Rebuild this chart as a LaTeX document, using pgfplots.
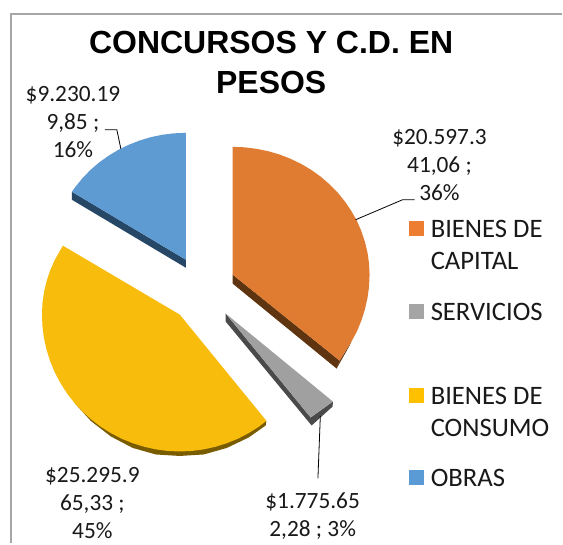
\documentclass[border=0pt]{standalone}
\usepackage{pgfplots}
\pgfplotsset{compat=1.18}
\usepackage{fontspec}
\setmainfont{Carlito}
\newfontfamily\arialb{Liberation Sans}
\definecolor{cor}{HTML}{E07B32}\definecolor{cordk}{HTML}{5F3410}
\definecolor{cgr}{HTML}{A0A0A0}\definecolor{cgrdk}{HTML}{4A4A4A}
\definecolor{cye}{HTML}{F7BC0C}\definecolor{cyedk}{HTML}{7A5C00}
\definecolor{cbl}{HTML}{5F9BD3}\definecolor{cbldk}{HTML}{264766}
\definecolor{lor}{HTML}{ED7D31}\definecolor{lgr}{HTML}{A5A5A5}
\definecolor{lye}{HTML}{FFC000}\definecolor{lbl}{HTML}{5B9BD5}
\tikzset{lab/.style={font=\fontsize{17.5pt}{21pt}\selectfont,text=black!90,inner sep=0pt},
 leg/.style={font=\fontsize{20pt}{24pt}\selectfont,text=black!90,inner sep=0pt}}
\begin{document}
\begin{tikzpicture}
\begin{axis}[scale only axis,width=422.25pt,height=408pt,xmin=0,xmax=563,ymin=0,ymax=544,y dir=reverse,
  hide axis,clip=false]
\addplot[fill=white,draw=none] coordinates {(0,0)(563,0)(563,544)(0,544)} -- cycle;
% frame
\addplot[draw=gray!70,line width=1pt] coordinates {(11,544)(11,14)(563,14)};
% blue
\addplot[fill=cbldk,draw=none] coordinates {(186,260)(72,192)(72,200)(186,268)} -- cycle;
\addplot[fill=cbl,draw=none] coordinates {(186,260)(186,133)(174.2,133.5)(162.6,134.9)(151.1,137.3)(139.8,140.7)(129,144.9)(118.5,150)(108.6,156)(99.2,162.7)(90.5,170.2)(82.6,178.4)(75.4,187.2)(72,192)} -- cycle;
% orange
\addplot[fill=cordk,draw=none] coordinates {(233,275)(340,361)(337,369)(233,284)} -- cycle;
\addplot[fill=cordk,draw=none] coordinates {(351.6,342.5)(350,346)(337,369)(340,361)} -- cycle;
\addplot[fill=cor,draw=none] coordinates {(233,275)(233,147)(244.9,147.5)(256.8,149)(268.5,151.4)(279.9,154.7)(290.9,159)(301.5,164.1)(311.6,170.1)(321.1,176.9)(329.9,184.5)(338,192.7)(345.2,201.6)(351.6,211)(357.2,220.9)(361.7,231.2)(365.3,241.9)(367.9,252.8)(369.5,263.8)(370,275)(369.5,286.8)(367.9,298.4)(365.3,309.9)(361.7,321.2)(357.2,332.1)(351.6,342.5)(345.2,352.4)(340,361)} -- cycle;
% grey
\addplot[fill=cgrdk,draw=none] coordinates {(226,314)(226,322)(312,426)(333,407)(333.3,402)(311,418)} -- cycle;
\addplot[fill=cgr,draw=none] coordinates {(226,314)(333.3,402)(311,418)} -- cycle;
% yellow
\addplot[fill=cyedk,draw=none] coordinates {(266.7,421.3)(266,426)(249,438)(227,448.5)(204,455)(180,456.5)(156,455)(133,448.5)(111,437)(91,421.5)(74.3,403.1)} -- cycle;
\addplot[fill=cye,draw=none] coordinates {(180,315)(266.7,421.3)(259.2,427.2)(249,433.6)(238.3,439.2)(227.2,443.7)(215.7,447.3)(204,449.9)(192,451.5)(180,452)(168,451.5)(156,449.9)(144.3,447.3)(132.8,443.7)(121.7,439.2)(111,433.6)(100.8,427.2)(91.3,419.9)(82.4,411.9)(74.3,403.1)(66.9,393.6)(60.5,383.5)(54.9,372.9)(50.3,361.9)(46.7,350.5)(44.1,338.8)(42.5,326.9)(42,315)(42.5,303.7)(44.1,292.4)(46.7,281.4)(50.3,270.5)(54.9,260.1)(63,246)} -- cycle;
% leaders
\addplot[black,line width=.6pt] coordinates {(121,149)(117,130)(105,130)};
\addplot[black,line width=.6pt] coordinates {(356,220)(403,200)(415,200)};
\addplot[black,line width=.6pt] coordinates {(320.7,416.7)(318.3,479)};
% legend swatches
\addplot[fill=lor,draw=none] coordinates {(409,221)(424,221)(424,236)(409,236)} -- cycle;
\addplot[fill=lgr,draw=none] coordinates {(409,304)(424,304)(424,319)(409,319)} -- cycle;
\addplot[fill=lye,draw=none] coordinates {(409,388)(424,388)(424,403)(409,403)} -- cycle;
\addplot[fill=lbl,draw=none] coordinates {(409,471)(424,471)(424,486)(409,486)} -- cycle;
% text
\node[font=\arialb\bfseries\fontsize{24pt}{29.5pt}\selectfont,align=center,text=black,inner sep=0pt] at (axis cs:271.5,62.5) {CONCURSOS Y C.D. EN\\PESOS};
\node[lab,align=center] at (axis cs:73,122) {\$9.230.19\\9,85 ;\\16\%};
\node[lab,align=center] at (axis cs:440,165) {\$20.597.3\\41,06 ;\\36\%};
\node[lab,align=center] at (axis cs:92.5,503.5) {\$25.295.9\\65,33 ;\\45\%};
\node[lab,align=center] at (axis cs:313,516.5) {\$1.775.65\\2,28 ; 3\%};
\node[leg,anchor=west,align=left] at (axis cs:431,245) {BIENES DE\\CAPITAL};
\node[leg,anchor=west] at (axis cs:431,312) {SERVICIOS};
\node[leg,anchor=west,align=left] at (axis cs:431,412) {BIENES DE\\CONSUMO};
\node[leg,anchor=west] at (axis cs:431,479) {OBRAS};
\end{axis}
\end{tikzpicture}
\end{document}
